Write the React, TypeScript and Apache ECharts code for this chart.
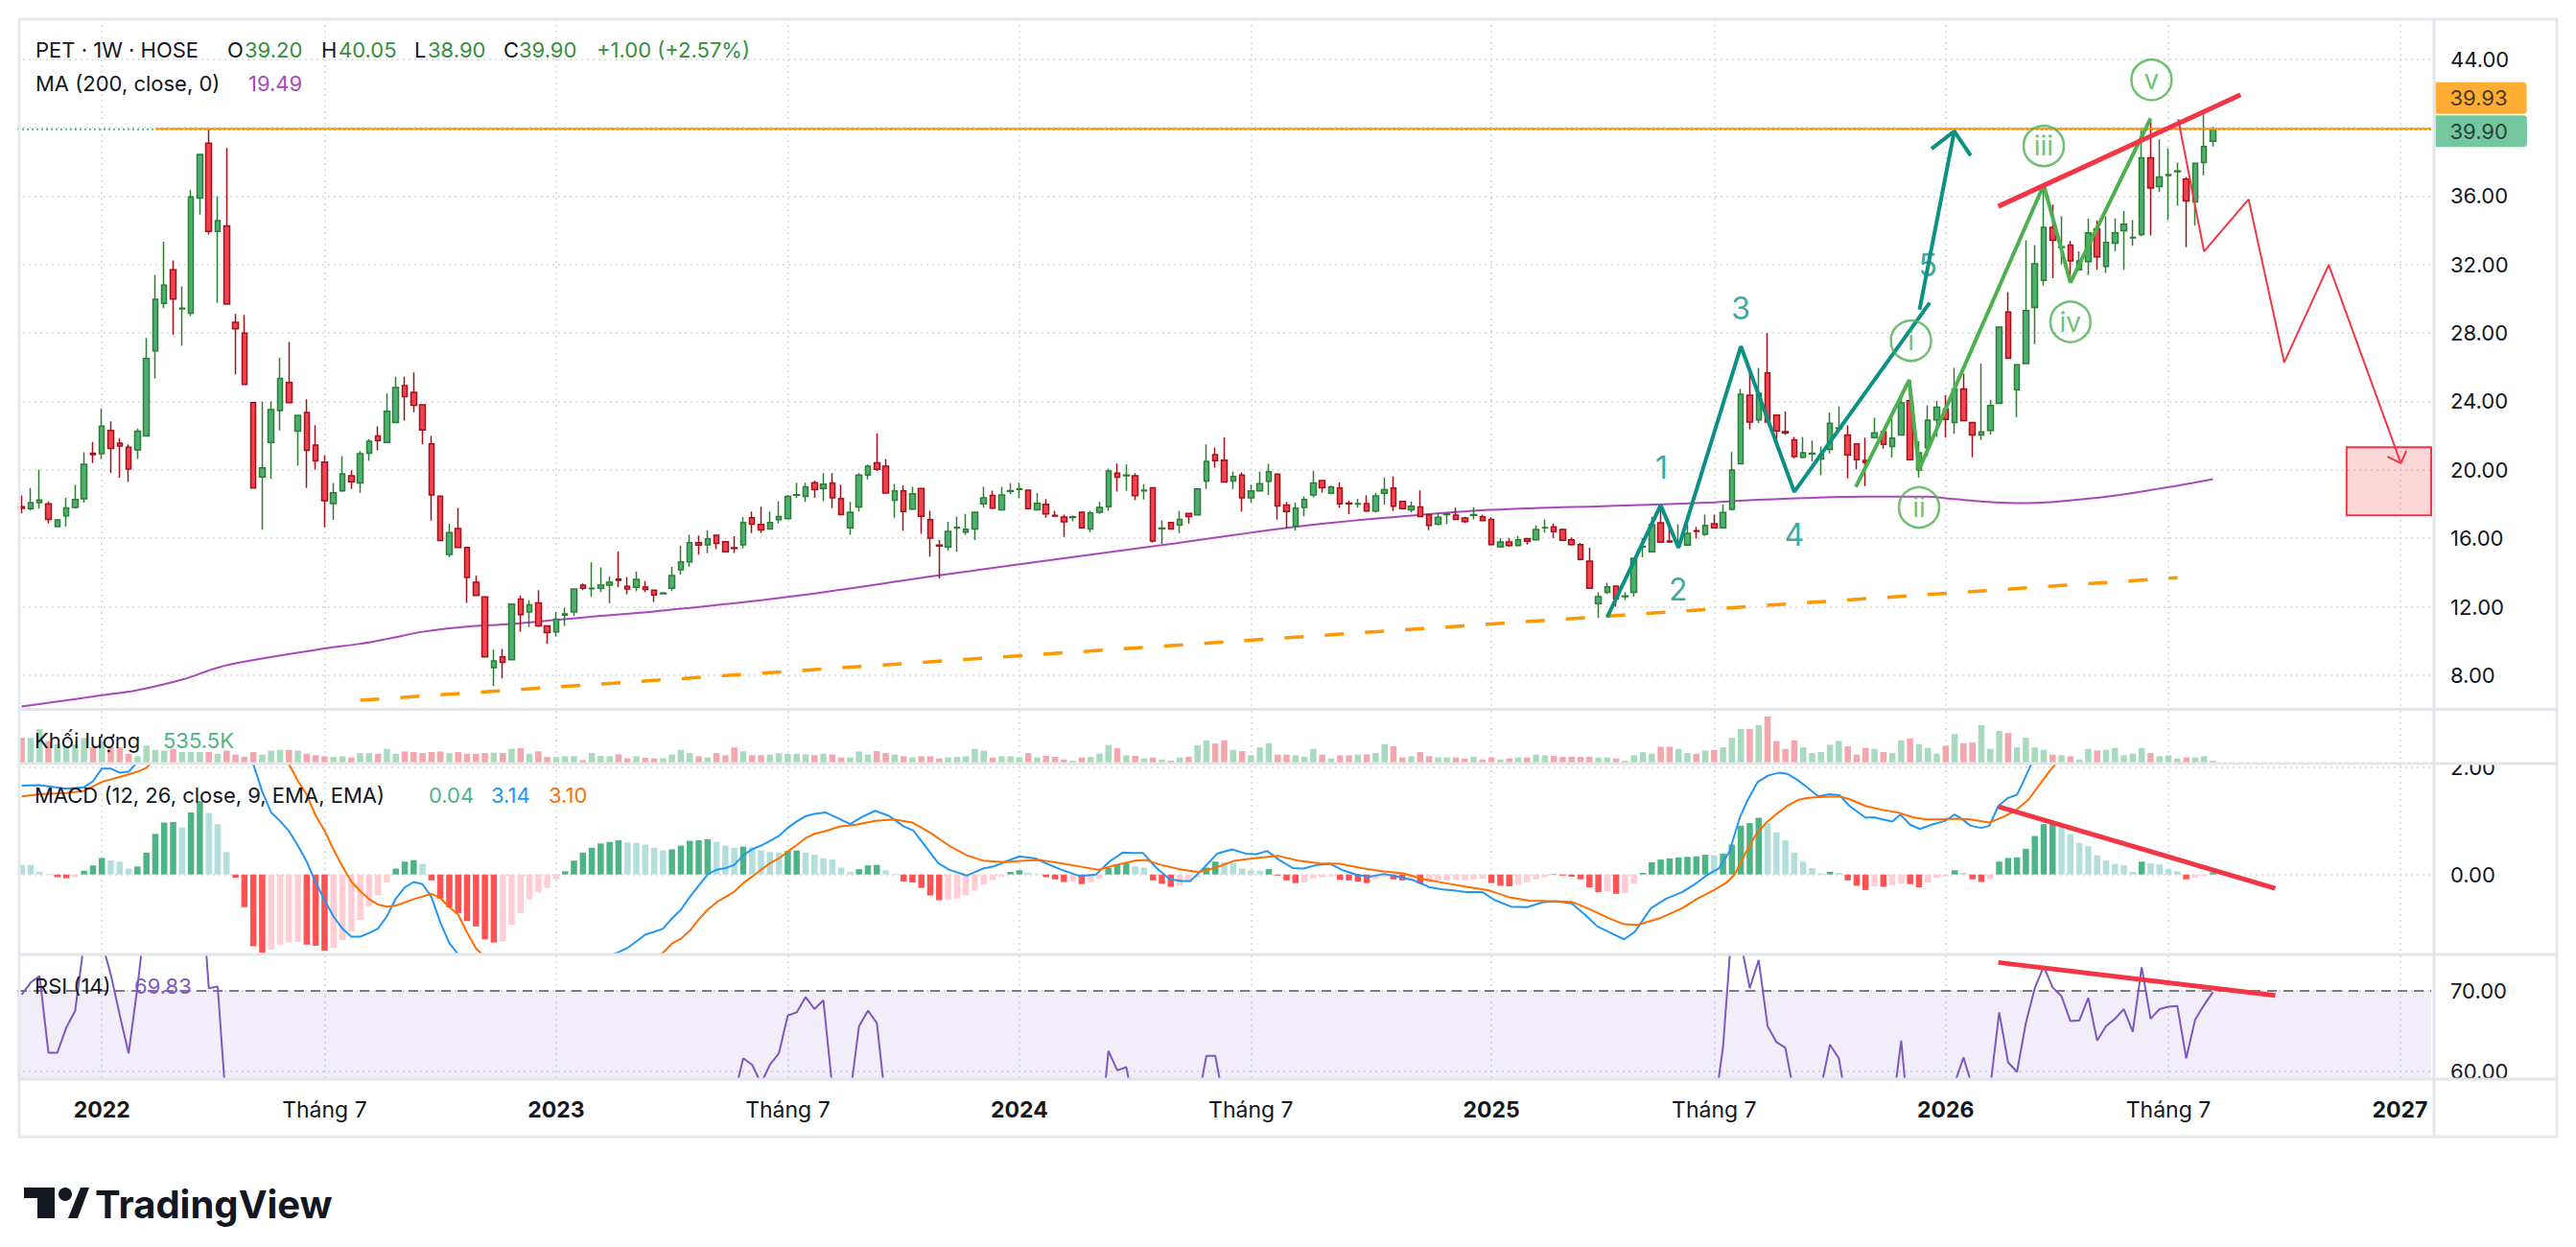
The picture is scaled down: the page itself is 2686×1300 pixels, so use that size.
import React, { useEffect, useRef } from "react";
import * as echarts from "echarts";

// ---------------- DATA ----------------
// weekly candles: [open, high, low, close]
const ohlc: number[][] = [
  [17.85,18.5,17.45,17.75],[17.73,18.94,17.62,18.08],[18.08,20.01,17.73,18.24],[18.01,18.15,16.87,17.1],[16.69,17.13,16.65,17.08],
  [17.31,18.36,16.69,17.78],[17.8,19.12,17.73,18.27],[18.31,21.03,18.08,20.33],[20.98,21.63,20.4,20.89],[20.94,23.6,20.63,22.56],
  [22.3,22.84,19.82,21.26],[21.56,21.86,19.54,21.4],[21.33,21.49,19.31,20.05],[21.17,22.42,20.63,22.26],[21.98,27.71,21.98,26.51],
  [26.95,31.38,25.35,29.97],[29.73,33.33,29.45,30.8],[31.7,32.24,27.9,29.99],[29.41,30.73,27.25,29.45],[29.15,36.35,28.99,35.95],
  [35.88,38.44,34.91,38.44],[39.09,39.93,33.75,33.93],[33.93,36.0,29.76,34.56],[34.26,38.81,29.69,29.69],[28.62,29.11,25.58,28.25],
  [27.99,29.06,24.99,24.99],[23.93,23.93,18.94,18.94],[19.59,24.0,16.5,20.12],[21.61,24.0,19.47,23.53],[23.47,26.55,22.3,25.35],
  [25.11,27.48,23.93,23.93],[22.26,23.19,20.24,23.19],[23.35,24.12,18.94,21.14],[21.45,22.61,20.01,20.52],[20.45,20.86,16.64,18.2],
  [18.03,19.24,17.08,18.66],[18.78,20.8,18.71,19.77],[19.66,19.98,18.89,19.31],[19.24,21.1,18.66,20.94],[20.98,21.79,20.52,21.68],
  [21.98,22.54,21.14,21.72],[21.61,24.46,21.61,23.42],[22.77,25.44,22.77,24.81],[24.92,25.44,22.88,24.28],[24.53,25.69,23.37,23.77],
  [23.81,23.81,21.49,22.33],[21.52,21.98,17.04,18.54],[18.47,18.47,15.87,15.87],[15.06,16.85,14.9,16.34],[16.57,17.78,15.46,15.46],
  [15.46,15.46,12.23,13.72],[13.44,13.83,12.67,12.67],[12.58,12.58,9.07,9.07],[8.45,9.49,7.36,8.84],[9.07,9.54,7.82,8.75],
  [8.91,12.16,8.91,12.16],[12.46,12.67,10.54,11.54],[11.7,12.39,10.81,12.11],[12.23,12.97,10.81,10.88],[10.88,10.88,9.84,10.49],
  [10.54,11.7,10.26,11.28],[11.51,11.93,10.88,11.58],[11.7,13.04,11.47,13.04],[13.27,13.37,12.97,13.09],[13.05,14.6,12.58,13.09],
  [13.09,14.3,12.86,13.27],[13.27,13.79,12.21,13.44],[13.62,15.23,13.14,13.55],[13.2,13.74,12.74,13.04],[13.14,14.07,12.9,13.6],
  [13.16,13.51,12.86,13.02],[12.97,12.97,12.28,12.69],[12.76,12.86,12.72,12.81],[13.08,14.33,12.91,13.82],[14.16,15.56,13.88,14.63],
  [14.63,16.21,14.35,15.75],[15.75,16.16,15.04,15.6],[15.62,16.46,15.13,15.97],[16.18,16.18,15.37,15.71],[15.8,15.8,15.19,15.22],
  [15.45,16.12,15.15,15.41],[15.62,17.24,15.41,16.92],[17.2,17.57,16.31,16.83],[16.81,17.85,16.31,16.49],[16.55,17.57,16.55,16.92],
  [17.09,18.17,16.87,17.28],[17.15,18.54,17.15,18.45],[18.52,19.25,18.36,18.55],[18.45,19.25,18.13,19.01],[19.25,19.37,18.36,18.86],
  [18.92,19.81,18.17,19.16],[19.23,19.81,17.76,18.36],[18.32,19.14,17.39,17.39],[16.62,18.13,16.21,17.52],[17.84,19.81,17.57,19.7],
  [19.7,20.32,19.44,20.22],[20.41,22.13,19.94,20.04],[20.22,20.63,18.64,18.64],[18.23,19.18,17.2,18.77],[18.77,19.1,16.44,17.57],
  [17.71,19.01,17.65,18.6],[18.92,18.92,16.27,17.29],[17.09,17.61,14.94,16.01],[15.61,15.9,13.66,15.55],[15.5,16.96,15.28,16.4],
  [16.6,17.28,15.22,16.64],[16.36,17.43,16.21,16.53],[16.55,17.52,15.9,17.52],[18.02,19.01,17.8,18.36],[18.51,18.79,17.71,17.76],
  [17.67,19.01,17.67,18.54],[18.75,19.23,18.58,18.79],[18.86,19.25,18.36,18.9],[18.82,18.82,17.71,17.74],[17.67,18.64,17.65,18.04],
  [17.99,18.3,17.2,17.43],[17.35,17.61,17.24,17.3],[17.24,17.39,16.08,16.96],[17.22,17.33,16.99,17.26],[17.52,17.57,16.62,16.62],
  [16.55,17.61,16.36,17.48],[17.52,18.13,17.43,17.8],[17.85,20.07,17.61,19.94],[19.81,20.37,18.73,19.57],[19.66,20.32,18.77,19.7],
  [19.66,19.81,18.23,18.49],[18.77,19.16,18.27,18.81],[18.96,18.96,15.75,15.84],[16.56,17.05,15.66,16.6],[16.92,16.92,16.55,16.55],
  [16.77,17.61,16.31,17.11],[17.46,17.46,16.87,17.28],[17.37,18.88,17.33,18.88],[19.35,21.49,18.88,20.5],[20.89,21.31,20.13,20.54],
  [20.56,21.9,19.29,19.29],[19.35,19.89,18.88,19.61],[19.7,19.85,17.57,18.36],[18.36,19.14,18.08,18.77],[18.77,19.89,18.77,19.2],
  [19.33,20.35,18.54,19.89],[19.76,19.76,17.09,17.89],[17.95,18.13,16.59,17.57],[16.72,18.08,16.46,17.76],[17.8,18.45,17.29,18.27],
  [18.54,19.94,18.4,19.23],[19.38,19.38,18.67,18.96],[18.63,19.09,18.57,19.0],[18.94,19.28,17.79,18.01],[18.06,18.2,17.41,18.02],
  [18.0,18.31,17.79,18.03],[18.03,18.5,17.54,17.6],[17.6,18.66,17.51,18.48],[18.63,19.56,17.97,18.85],[18.94,19.62,17.6,17.88],
  [18.16,18.2,17.69,17.73],[17.66,18.16,17.51,17.88],[17.84,18.8,17.23,17.28],[17.38,17.38,16.48,16.76],[16.82,17.47,16.76,17.23],
  [17.38,17.51,16.82,17.43],[17.36,17.79,17.1,17.1],[17.19,17.26,16.89,16.98],[17.34,17.82,17.1,17.38],[17.26,17.38,17.0,17.04],
  [17.1,17.23,15.58,15.64],[15.51,16.01,15.45,15.79],[15.79,16.01,15.51,15.58],[15.58,16.14,15.58,15.92],[15.98,16.01,15.64,15.83],
  [15.92,16.76,15.92,16.52],[16.61,17.1,16.33,16.63],[16.67,16.85,16.01,16.39],[16.52,16.57,15.88,15.88],[15.92,16.05,15.58,15.64],
  [15.64,15.73,14.71,14.76],[14.67,15.45,13.08,13.08],[12.19,12.84,11.35,12.6],[12.84,13.4,12.75,13.17],[13.21,13.21,12.0,12.47],
  [12.6,12.84,12.4,12.64],[12.84,14.84,12.6,14.84],[15.49,16.01,14.89,15.53],[15.21,17.26,15.17,16.8],[16.91,17.79,15.73,15.77],
  [15.85,16.63,15.73,15.79],[15.77,16.82,15.58,15.81],[15.6,16.82,15.6,16.29],[16.45,16.67,15.98,16.4],[16.24,17.38,16.14,16.76],
  [16.85,17.38,16.57,16.61],[16.61,17.97,16.61,17.51],[17.69,21.05,17.63,19.99],[20.36,24.73,20.36,24.42],[24.36,25.96,22.36,22.79],
  [22.92,25.96,22.74,24.47],[25.67,28.0,22.79,22.79],[23.2,23.24,21.47,22.27],[22.24,23.43,22.04,22.17],[21.76,21.93,20.68,20.77],
  [20.74,21.93,20.68,21.0],[20.93,21.71,20.49,20.97],[20.64,21.37,19.69,20.87],[21.2,23.35,20.96,22.73],[22.42,23.72,22.3,22.46],
  [22.04,22.6,19.5,20.87],[21.52,21.52,20.03,20.59],[20.55,21.89,19.06,20.44],[21.89,23.05,21.89,22.17],[22.23,22.23,21.24,21.49],
  [21.37,23.01,20.74,21.86],[22.04,24.32,22.04,23.91],[24.04,25.2,20.59,20.59],[19.99,21.67,19.56,21.0],[21.3,23.76,20.8,22.9],
  [22.92,24.04,21.92,23.66],[23.57,24.37,21.89,22.95],[22.77,25.96,22.11,24.73],[24.73,25.63,22.88,22.88],[22.77,22.77,20.73,22.04],
  [22.04,26.22,21.74,22.22],[22.3,24.1,22.07,23.76],[23.89,28.34,23.89,28.34],[29.23,30.39,26.52,26.52],[24.69,26.15,23.07,26.15],
  [26.22,33.42,26.22,29.31],[29.5,33.14,27.35,32.04],[31.08,36.62,30.77,34.17],[34.17,35.5,31.2,33.42],[33.0,34.82,32.02,33.04],
  [33.14,33.38,31.05,32.21],[31.7,32.77,31.7,32.21],[32.17,34.69,31.38,33.85],[34.09,34.56,31.7,32.45],[31.89,34.82,31.51,33.29],
  [33.25,34.69,32.79,33.85],[33.98,35.12,31.7,34.35],[33.55,34.6,33.1,33.59],[33.76,39.87,33.66,38.24],[38.24,40.39,33.7,36.47],
  [36.56,39.31,36.24,37.12],[37.2,38.8,34.6,37.25],[37.42,37.96,35.44,37.46],[36.99,37.12,33.01,35.72],[35.66,37.91,34.28,37.91],
  [37.96,40.8,37.21,38.9],[39.2,40.05,38.9,39.9],
];

// weekly volume, millions of shares
const volumeM: number[] = [
  7.0,7.0,9.5,6.1,5.2,4.8,5.2,7.0,4.3,6.1, 4.3,4.3,2.5,1.8,4.8,3.6,3.4,3.9,3.0,3.0,
  3.0,3.0,2.5,3.4,2.25,1.6,3.0,2.25,3.4,3.6, 3.6,3.4,2.5,2.1,1.8,1.6,1.8,1.45,2.7,2.7,
  2.5,3.9,2.5,3.15,3.0,2.7,3.0,3.15,2.7,3.0, 2.5,2.5,2.7,2.8,2.7,3.9,4.1,2.5,3.2,1.6,
  1.6,1.8,1.8,0.7,2.7,1.9,1.8,2.35,1.2,1.8, 1.35,1.2,1.2,2.35,3.6,2.7,1.8,1.45,2.7,2.1,
  4.3,3.2,2.1,2.1,2.25,2.7,2.5,2.5,2.35,2.1, 2.5,2.3,1.44,1.44,3.15,2.25,3.24,2.7,2.25,1.8,
  1.44,1.8,1.8,1.17,1.44,1.62,1.8,3.87,3.42,1.44, 1.8,1.8,1.44,2.7,1.44,1.89,1.62,0.9,0.54,1.44,
  1.62,2.52,4.95,4.05,2.07,1.89,1.17,1.44,0.9,0.54, 1.44,1.62,4.95,6.3,5.4,6.3,3.6,3.24,2.07,4.32,
  5.49,2.25,2.25,2.07,1.62,3.87,2.25,1.17,2.07,2.07, 2.25,2.34,2.7,5.22,4.59,1.44,1.8,2.97,1.8,1.44,
  1.44,1.44,1.17,1.62,0.9,1.44,0.9,1.17,1.44,1.44, 2.25,2.07,1.89,1.62,1.62,1.62,1.62,1.44,1.44,1.17,
  0.54,2.07,2.97,2.52,4.5,4.5,3.87,2.7,2.52,3.42, 3.6,4.32,7.02,9.54,9.54,10.62,13.05,6.12,3.87,6.3,
  4.32,2.7,2.97,5.04,6.12,4.59,2.25,4.14,3.87,2.97, 2.7,6.3,6.84,5.22,4.14,2.52,4.77,8.1,5.49,5.67,
  10.62,3.87,9.0,8.37,4.32,7.02,4.32,3.6,2.25,2.07, 1.8,0.9,3.87,3.42,3.6,4.14,2.07,2.52,4.14,2.7,
  1.8,2.07,1.17,1.44,1.44,1.8,0.5355,
];

// MACD histogram per week
const macdHist: number[] = [
  0.18,0.18,0.05,0.01,-0.05,-0.07,-0.05,0.07,0.17,0.31, 0.26,0.24,0.11,0.15,0.41,0.76,0.97,0.98,0.88,1.16,
  1.37,1.15,0.94,0.42,-0.06,-0.61,-1.34,-1.46,-1.4,-1.31, -1.27,-1.26,-1.31,-1.33,-1.42,-1.37,-1.22,-1.06,-0.85,-0.59,
  -0.39,-0.15,0.11,0.24,0.27,0.2,-0.11,-0.45,-0.61,-0.72, -0.87,-0.97,-1.21,-1.27,-1.25,-0.94,-0.72,-0.47,-0.33,-0.25,
  -0.09,0.06,0.26,0.41,0.5,0.58,0.61,0.64,0.6,0.59, 0.56,0.5,0.45,0.47,0.54,0.63,0.64,0.66,0.61,0.54,
  0.5,0.52,0.51,0.45,0.42,0.41,0.44,0.45,0.41,0.37, 0.3,0.28,0.13,0.05,0.1,0.17,0.18,0.08,0.01,-0.13,
  -0.15,-0.25,-0.39,-0.48,-0.47,-0.45,-0.39,-0.3,-0.19,-0.11, -0.04,0.05,0.08,0.03,0.01,-0.05,-0.09,-0.14,-0.13,-0.18,
  -0.14,-0.08,0.12,0.19,0.21,0.15,0.13,-0.11,-0.17,-0.23, -0.21,-0.15,-0.06,0.13,0.24,0.23,0.22,0.11,0.08,0.07,
  0.1,-0.02,-0.11,-0.16,-0.15,-0.07,-0.05,-0.03,-0.1,-0.11, -0.13,-0.16,-0.09,-0.05,-0.09,-0.11,-0.07,-0.17,-0.15,-0.11,
  -0.11,-0.1,-0.1,-0.09,-0.08,-0.16,-0.21,-0.22,-0.19,-0.15, -0.09,-0.05,0.01,-0.02,-0.04,-0.09,-0.24,-0.33,-0.32,-0.36,
  -0.35,-0.17,0.03,0.23,0.28,0.3,0.32,0.33,0.34,0.37, 0.36,0.39,0.56,0.91,0.96,1.06,0.96,0.79,0.64,0.41,
  0.24,0.12,0.02,0.05,0.03,-0.11,-0.21,-0.29,-0.22,-0.23, -0.2,-0.17,-0.18,-0.24,-0.15,-0.06,-0.04,0.08,0.03,-0.09,
  -0.14,-0.09,0.24,0.31,0.32,0.48,0.72,0.94,0.97,0.91, 0.75,0.59,0.53,0.36,0.26,0.2,0.17,0.05,0.24,0.21,
  0.19,0.1,0.06,-0.09,-0.06,-0.03,0.04,
];

// MACD line [week, value]
const macdLine: number[][] = [
  [0,1.66],[2,1.67],[5,1.6],[7,1.63],[8,1.74],[9,1.98],[10,1.98],[11,1.9],[12,1.92],[13,2.1],[14,2.4],[15,2.94],[16,3.39],
  [17,3.65],[18,3.77],[19,4.34],[20,4.89],[21,4.96],[22,4.99],[23,4.58],[24,4.08],[25,3.2],[26,2.06],[27,1.55],[28,1.16],
  [29,1.0],[30,0.81],[31,0.54],[32,0.24],[33,-0.15],[34,-0.48],[35,-0.78],[36,-1.01],[37,-1.16],[38,-1.16],[39,-1.09],
  [40,-1.01],[41,-0.78],[42,-0.45],[43,-0.24],[44,-0.14],[45,-0.18],[46,-0.42],[47,-0.9],[48,-1.28],[49,-1.49],[50,-1.95],
  [51,-2.35],[52,-2.75],[53,-3.0],[54,-3.1],[55,-3.0],[56,-2.95],[57,-2.85],[58,-2.75],[59,-2.65],[60,-2.5],[61,-2.3],
  [62,-2.05],[63,-1.85],[64,-1.7],[65,-1.6],[66,-1.52],[67,-1.45],[68,-1.37],[69,-1.25],[70,-1.12],[71,-1.07],[72,-1.01],
  [73,-0.82],[74,-0.66],[75,-0.42],[76,-0.21],[77,0.0],[78,0.09],[79,0.12],[80,0.18],[81,0.36],[82,0.47],[83,0.54],
  [84,0.63],[85,0.72],[86,0.87],[87,0.99],[88,1.09],[89,1.13],[90.2,1.16],[91.4,1.07],[93.0,0.94],[94.3,1.07],[95.8,1.19],
  [97.3,1.1],[99.0,0.9],[100.1,0.82],[101.4,0.54],[102.9,0.21],[104.1,0.09],[106.1,-0.02],[107.9,0.11],[109.1,0.15],
  [110.6,0.25],[112.0,0.34],[113.8,0.3],[115.0,0.21],[116.7,0.09],[118.8,-0.03],[120.6,0.0],[122.1,0.24],[123.6,0.41],
  [124.7,0.4],[125.9,0.4],[127.4,0.12],[128.9,-0.09],[130.3,-0.12],[131.2,-0.12],[132.7,0.12],[134.2,0.39],[135.9,0.47],
  [137.4,0.39],[138.6,0.38],[139.8,0.44],[141.2,0.27],[142.7,0.12],[143.9,0.11],[145.4,0.18],[146.9,0.2],[148.3,0.08],
  [149.8,0.0],[151.3,-0.04],[153.0,0.01],[154.5,-0.04],[156.3,-0.11],[158.1,-0.24],[159.5,-0.28],[161.0,-0.3],[162.2,-0.33],
  [164.0,-0.33],[165.4,-0.48],[167.2,-0.6],[169.0,-0.61],[170.7,-0.52],[172.2,-0.5],[174.0,-0.54],[175.5,-0.75],[176.9,-0.97],
  [178.4,-1.09],[179.9,-1.21],[181.1,-1.07],[182.0,-0.85],[182.9,-0.63],[184.6,-0.45],[186.4,-0.33],[188.1,-0.15],[189.3,0.0],
  [190.5,0.11],[191.7,0.42],[192.9,1.07],[193.7,1.37],[194.9,1.73],[196.1,1.85],[197.3,1.9],[198.2,1.88],[199.4,1.76],
  [200.5,1.62],[201.7,1.46],[202.9,1.5],[204.1,1.48],[205.2,1.28],[207.0,1.06],[207.9,1.07],[210.0,0.99],[210.9,1.12],
  [212.0,0.93],[213.1,0.85],[214.4,0.93],[215.9,1.0],[217.0,1.12],[217.8,1.04],[218.8,0.91],[220.0,0.87],[220.9,0.91],
  [221.9,1.28],[223.0,1.43],[224.0,1.49],[224.7,1.73],[225.6,2.06],[226,2.3],[227,2.76],[228,3.03],[229,3.21],[230,3.25],
  [231,3.24],[232,3.31],[233,3.23],[234,3.19],[235,3.18],[236,3.19],[237,3.09],[238,3.31],[239,3.3],[240,3.3],[241,3.22],
  [242,3.19],[243,3.04],[244,3.05],[245,3.07],[246,3.14],
];

// MACD signal line [week, value]
const signalLine: number[][] = [
  [0,1.46],[2,1.5],[5,1.52],[7,1.56],[9,1.73],[11,1.82],[13,1.92],[14,1.99],[15,2.18],[16,2.42],[17,2.67],[18,2.89],
  [19,3.18],[20,3.52],[21,3.81],[22,4.05],[23,4.16],[24,4.14],[25,3.99],[26,3.65],[27,3.1],[28,2.6],[29,2.3],[30,2.06],
  [31,1.75],[32,1.49],[33,1.1],[34,0.82],[35,0.47],[36,0.15],[37,-0.13],[38,-0.31],[39,-0.46],[40,-0.56],[41,-0.6],
  [42,-0.58],[43,-0.52],[44,-0.46],[45,-0.41],[46,-0.36],[47,-0.44],[48,-0.61],[49,-0.75],[50,-1.08],[51,-1.38],[52,-1.54],
  [53,-1.73],[54,-1.85],[55,-2.06],[56,-2.23],[57,-2.38],[58,-2.42],[59,-2.4],[60,-2.41],[61,-2.36],[62,-2.31],[63,-2.26],
  [64,-2.2],[65,-2.18],[66,-2.13],[67,-2.09],[68,-1.97],[69,-1.85],[70,-1.68],[71,-1.57],[72,-1.46],[73,-1.29],[74,-1.2],
  [75,-1.05],[76,-0.84],[77,-0.66],[78,-0.52],[79,-0.42],[80,-0.32],[81,-0.16],[82,-0.04],[83,0.09],[84,0.21],[85,0.3],
  [86,0.43],[87,0.55],[88,0.68],[89,0.76],[90.2,0.81],[91.9,0.9],[93.7,0.93],[95.8,1.0],[97.9,1.03],[100.0,0.97],
  [102.0,0.78],[104.1,0.54],[106.1,0.36],[107.9,0.26],[110.3,0.23],[112.6,0.26],[114.4,0.27],[116.7,0.21],[119.1,0.14],
  [120.9,0.09],[122.9,0.18],[125.0,0.26],[126.2,0.27],[127.9,0.18],[130.3,0.09],[132.1,0.05],[133.9,0.12],[136.2,0.26],
  [138.6,0.31],[141.0,0.35],[143.3,0.26],[145.7,0.21],[148.0,0.2],[150.4,0.12],[152.7,0.06],[155.1,0.02],[157.5,-0.09],
  [159.8,-0.16],[162.2,-0.23],[164.6,-0.29],[166.9,-0.42],[169.3,-0.49],[171.7,-0.5],[174.0,-0.51],[175.8,-0.63],
  [178.1,-0.81],[179.9,-0.93],[181.4,-0.94],[182.8,-0.87],[184.0,-0.81],[186.4,-0.63],[188.1,-0.45],[189.9,-0.3],
  [191.4,-0.15],[192.3,0.0],[193.4,0.36],[194.6,0.72],[195.8,0.96],[197.0,1.13],[198.2,1.28],[199.4,1.39],[200.5,1.43],
  [202.3,1.45],[204.1,1.46],[205.3,1.4],[207.0,1.28],[208.8,1.21],[210.6,1.16],[212.3,1.07],[213.8,1.03],[215.3,1.03],
  [217.1,1.04],[218.8,1.03],[220.9,0.97],[222.4,1.07],[223.8,1.19],[225.3,1.4],[226.5,1.67],[227.7,1.94],[228.3,2.06],
  [229,2.3],[230,2.5],[231,2.65],[232,2.78],[233,2.87],[234,2.93],[235,2.98],[236,3.02],[237,3.04],[238,3.07],[239,3.09],
  [240,3.11],[241,3.12],[242,3.13],[243,3.13],[244,3.11],[245,3.1],[246,3.1],
];

// RSI(14) per week
const rsi14: number[] = [
  69.5,71.0,71.8,62.3,62.3,65.4,67.5,76,78,76, 72,67,62.2,70.5,80,85,87,84,80,85,
  86,70.3,70.5,55,52,45,36,40,45,49, 46,47,43,42,37,39,42,41,45,47,
  47,52,55,53,51,47,38,33,37,35, 31,29,23,25,25,38,37,40,36,35,
  39,40,46,46,46,47,48,48,46,48, 46,45,46,50,53,55,55,56,57,56,
  57,61.6,60.8,58.5,60.8,62.2,66.9,67.3,69.2,67.7, 68.8,58,54,57,65.6,67.5,66.0,56,57,51,
  53,47,44,41,45,47,48,52,56,53, 56,57,57,51,54,50,47,46,47,44,
  49,51,62.5,60.1,60.5,55,56,43,47,47, 49,50,56,61.9,61.9,56,57,52,54,55,
  57,50,49,53,55,57,55,56,52,52, 52,51,54,55,51,49,50,48,45,47,
  48,47,46,48,47,40,42,41,43,42, 46,47,46,44,42,39,33,32,36,34,
  35,46,55,58,52,51,52,55,54,57, 55,63,78,76,70.3,73.8,65.6,63.6,62.9,57,
  58,58,58,63.3,61.6,55,52,52,56,54, 55,63.8,52,56,58,58.5,57,58.5,61.7,58,
  58,58,67.3,61.1,59.9,66.0,70.3,73.0,70.4,69.3, 66.2,66.3,69.1,63.8,65.6,66.5,67.7,64.9,72.9,66.5,
  67.7,68.0,68.1,61.6,66.4,68.2,69.83,
];

// MA(200) [week, value]
const ma200: number[][] = [
  [0,6.17],[9,6.83],[13,7.13],[18,7.74],[22,8.45],[25,8.8],[34,9.56],[38,9.84],[41,10.12],[45,10.54],[50,10.84],
  [55,11.0],[60,11.23],[65,11.47],[71,11.73],[86,12.58],[103,13.84],[112,14.48],[128,15.6],[145,16.8],[158,17.41],
  [165,17.66],[180,17.92],[190,18.1],[193,18.2],[200,18.35],[207,18.44],[214,18.44],[216,18.34],[224,18.06],[233,18.37],
  [241,18.99],[246,19.46],
];

// time axis
const TOTAL_WEEKS = 271;
const weeks: string[] = Array.from({ length: TOTAL_WEEKS }, (_, i) => String(i));
const timeTicks = [9, 34, 60, 86, 112, 138, 165, 190, 216, 241, 267];
const timeLabels = ["2022", "Tháng 7", "2023", "Tháng 7", "2024", "Tháng 7", "2025", "Tháng 7", "2026", "Tháng 7", "2027"];
const priceTicks = [8, 12, 16, 20, 24, 28, 32, 36, 40, 44];
const priceLabelTicks = [8, 12, 16, 20, 24, 28, 32, 36, 44];
const macdTicks = [0, 2];
const rsiTicks = [60, 70];

const lastClose = 39.9;
const highLine = 39.93;

// drawings [week, price]
const supportLine = [[38, 6.54], [242, 13.7]];
const highLineSpan = [[15, highLine], [270.5, highLine]];
const closeLineSpan = [[-0.5, lastClose], [270.5, lastClose]];
const waveMain = [[178, 11.4], [184, 17.94], [186, 15.45], [193, 27.22], [199, 18.72], [214.2, 29.77]];
const waveArrow = [[213.06, 29.36], [216.96, 39.79]];
const waveArrowHead = [[214.4, 38.76], [216.96, 39.79], [218.8, 38.37]];
const waveLabels = [[184.1, 20.12, "1"], [185.95, 13.03, "2"], [193.0, 29.46, "3"], [199.0, 16.2, "4"], [214.0, 31.98, "5"]];
const subWave = [[205.9, 19.0], [211.9, 25.26], [213.0, 20.02], [227.0, 36.65], [230.0, 30.95], [239.0, 40.54]];
const subWaveMarks = [[212.1, 27.55, "i"], [213.0, 17.81, "ii"], [227.0, 38.93, "iii"], [230.0, 28.65, "iv"], [239.1, 42.79, "v"]];
const wedgeTop = [[221.9, 35.4], [249.1, 41.92]];
const forecastPath = [[242.1, 40.49], [245.0, 32.77], [250.0, 35.81], [254.0, 26.28], [259.0, 31.98], [267.1, 20.39]];
const forecastHead = [[265.6, 20.77], [267.1, 20.39], [267.7, 21.1]];
const targetZone = [[261.0, 21.33], [270.5, 17.35]];
const macdDivergence = [[221.9, 1.27], [253.0, -0.26]];
const rsiDivergence = [[221.9, 73.49], [253.0, 69.4]];

// ---------------- STYLE / LAYOUT ----------------
const W = 2686;
const H = 1300;
const FONT = "Inter, Roboto, sans-serif";
const TXT = "#131722";
const UP = "#4caf74";
const DOWN = "#f0434f";
const GRID_LEFT = 18;
const GRID_RIGHT = 151;
const panes = [
  { top: 20, height: 719 },
  { top: 741, height: 54 },
  { top: 797, height: 197 },
  { top: 996, height: 128 },
];
const DOT = { color: "#d6d8de", width: 1.5, type: [2, 4] as number[] };
const CLEAR = "rgba(0,0,0,0)";

function App() {
  const ref = useRef<HTMLDivElement>(null);

  useEffect(() => {
    if (!ref.current) return;
    const chart = echarts.init(ref.current, null, { renderer: "svg", width: W, height: H });

    const grid = panes.map((p) => ({
      left: GRID_LEFT, right: GRID_RIGHT, top: p.top, height: p.height,
      outerBoundsMode: "none", containLabel: false,
    }));

    const xAxis: any[] = [];
    panes.forEach((_, gi) => {
      xAxis.push({ type: "category", gridIndex: gi, data: weeks, show: false, boundaryGap: true });
      xAxis.push({
        type: "value", gridIndex: gi, min: -0.5, max: TOTAL_WEEKS - 0.5, position: "bottom",
        axisLine: { show: false },
        axisTick: { show: false, customValues: timeTicks },
        axisLabel: gi === 3
          ? {
              show: true, customValues: timeTicks, margin: 21,
              formatter: (v: number) => {
                const k = timeTicks.indexOf(Math.round(v));
                if (k < 0) return "";
                const t = timeLabels[k];
                return /^\d{4}$/.test(t) ? `{y|${t}}` : `{m|${t}}`;
              },
              rich: {
                y: { fontFamily: FONT, fontSize: 23, fontWeight: 700, color: TXT },
                m: { fontFamily: FONT, fontSize: 23, fontWeight: 400, color: TXT },
              },
            }
          : { show: false },
        splitLine: { show: true, lineStyle: DOT },
      });
    });

    const yLabel = (vals: number[]) => ({
      show: true, customValues: vals, margin: 20, color: TXT, fontSize: 22, fontFamily: FONT,
      formatter: (v: number) => v.toFixed(2),
    });

    const yAxis: any[] = [
      {
        type: "value", gridIndex: 0, position: "right", min: 6.035, max: 46.337,
        axisLine: { show: false }, axisTick: { show: false, customValues: priceTicks },
        axisLabel: yLabel(priceLabelTicks), splitLine: { show: true, lineStyle: DOT },
      },
      { type: "value", gridIndex: 1, min: 0, max: 14.67, show: false, splitLine: { show: false } },
      {
        type: "value", gridIndex: 2, position: "right", min: -1.474, max: 2.054,
        axisLine: { show: false }, axisTick: { show: false, customValues: macdTicks },
        axisLabel: yLabel(macdTicks), splitLine: { show: true, lineStyle: DOT },
      },
      {
        type: "value", gridIndex: 3, position: "right", min: 59.13, max: 74.37,
        axisLine: { show: false }, axisTick: { show: false, customValues: rsiTicks },
        axisLabel: yLabel(rsiTicks), splitLine: { show: true, lineStyle: DOT },
      },
    ];

    const line = (data: any[], color: string, width: number, xi: number, yi: number, extra: any = {}) => ({
      type: "line", data, xAxisIndex: xi, yAxisIndex: yi, symbol: "none", showSymbol: false, silent: true,
      lineStyle: { color, width, ...(extra.lineStyle || {}) }, z: extra.z ?? 5,
      smooth: extra.smooth ?? false, ...(extra.more || {}),
    });

    const histColor = (i: number) => {
      const v = macdHist[i];
      const prev = i > 0 ? macdHist[i - 1] : v;
      if (v >= 0) return v > prev ? "#4db585" : "#b2dfdb";
      return v < prev ? "#ff5252" : "#ffcdd2";
    };

    const priceTag = (value: number, bg: string, dy: number) => ({
      type: "scatter", xAxisIndex: 1, yAxisIndex: 0, data: [[270.5, value]], symbolSize: 1, clip: false, silent: true, z: 20,
      itemStyle: { color: CLEAR },
      label: {
        show: true, position: "right", distance: 4, offset: [0, dy], formatter: value.toFixed(2),
        backgroundColor: bg, color: TXT, fontSize: 22, fontFamily: FONT, lineHeight: 22,
        padding: [6, 20, 5, 15], borderRadius: [0, 4, 4, 0],
      },
    });

    const series: any[] = [
      // price pane
      line(ma200, "#ab47bc", 2, 1, 0, { smooth: 0.4, z: 2 }),
      {
        type: "candlestick", xAxisIndex: 0, yAxisIndex: 0, barWidth: 6, silent: true, z: 3,
        data: ohlc.map(([o, h, l, c]) => [o, c, l, h]),
        itemStyle: { color: UP, color0: DOWN, borderColor: "#2e7d32", borderColor0: "#a3121b", borderWidth: 1.5 },
      },
      line(supportLine, "#ff9800", 3.5, 1, 0, { lineStyle: { type: [20, 22] } }),
      line(closeLineSpan, "#4cb782", 2, 1, 0, { lineStyle: { type: [2, 3] }, z: 4 }),
      line(highLineSpan, "#ff9800", 2, 1, 0, { z: 4 }),
      line(waveMain, "#0a9183", 4, 1, 0),
      line(waveArrow, "#0a9183", 4, 1, 0),
      line(waveArrowHead, "#0a9183", 4, 1, 0),
      {
        type: "scatter", xAxisIndex: 1, yAxisIndex: 0, data: waveLabels, symbolSize: 1, silent: true, z: 6,
        itemStyle: { color: CLEAR },
        label: { show: true, position: "inside", formatter: (p: any) => p.data[2], color: "#0a9183", fontSize: 32, fontFamily: FONT },
      },
      line(subWave, "#4caf50", 4, 1, 0),
      {
        type: "scatter", xAxisIndex: 1, yAxisIndex: 0, data: subWaveMarks, symbol: "circle", symbolSize: 42, silent: true, z: 6,
        itemStyle: { color: CLEAR, borderColor: "#4caf50", borderWidth: 2.5 },
        label: { show: true, position: "inside", formatter: (p: any) => p.data[2], color: "#4caf50", fontSize: 28, fontFamily: FONT },
      },
      line(wedgeTop, "#f23645", 5, 1, 0),
      line(forecastPath, "#f23645", 2, 1, 0, {
        more: {
          markArea: {
            silent: true,
            itemStyle: { color: "rgba(242,54,69,0.2)", borderColor: "#f23645", borderWidth: 2 },
            data: [[{ coord: targetZone[0] }, { coord: targetZone[1] }]],
          },
        },
      }),
      line(forecastHead, "#f23645", 2, 1, 0),
      priceTag(highLine, "#ff9800", -32),
      priceTag(lastClose, "#53b987", 2),

      // volume pane
      {
        type: "bar", xAxisIndex: 2, yAxisIndex: 1, data: volumeM, barWidth: "70%", silent: true,
        itemStyle: { color: (p: any) => (ohlc[p.dataIndex][3] >= ohlc[p.dataIndex][0] ? "#a8dbbe" : "#f4a6ad") },
      },

      // MACD pane
      {
        type: "bar", xAxisIndex: 4, yAxisIndex: 2, data: macdHist, barWidth: "70%", silent: true,
        itemStyle: { color: (p: any) => histColor(p.dataIndex) },
      },
      line(macdLine, "#2196f3", 2, 5, 2),
      line(signalLine, "#ff6d00", 2, 5, 2),
      line(macdDivergence, "#f23645", 5, 5, 2, { z: 7 }),

      // RSI pane
      line(rsi14, "#7e57c2", 2, 6, 3, {
        more: {
          markArea: {
            silent: true,
            itemStyle: { color: "rgba(126,87,194,0.1)" },
            data: [[{ yAxis: 59.13 }, { yAxis: 70 }]],
          },
          markLine: {
            silent: true, symbol: "none", label: { show: false },
            lineStyle: { color: "#787b86", width: 2, type: [10, 7] },
            data: [{ yAxis: 70 }],
          },
        },
      }),
      line(rsiDivergence, "#f23645", 5, 7, 3, { z: 7 }),
    ];

    const txt = (x: number, y: number, text: string, fill: string, size = 22, weight: any = 400) => ({
      type: "text", x, y, z: 200,
      style: { text, fill, fontSize: size, fontWeight: weight, fontFamily: FONT, verticalAlign: "middle" },
    });
    const hline = (y: number) => ({
      type: "line", z: 150, shape: { x1: 20, y1: y, x2: 2666, y2: y }, style: { stroke: "#e3e5ea", lineWidth: 3 },
    });

    const graphic: any[] = [
      // covers for axis labels clipped by pane edges
      { type: "rect", z: 140, shape: { x: 2541, y: 741, width: 123, height: 55 }, style: { fill: "#fff" } },
      { type: "rect", z: 140, shape: { x: 2541, y: 1126, width: 123, height: 58 }, style: { fill: "#fff" } },
      // frame and separators
      { type: "rect", z: 150, shape: { x: 20, y: 20, width: 2646, height: 1165 }, style: { fill: "none", stroke: "#e6e8ee", lineWidth: 3 } },
      { type: "line", z: 150, shape: { x1: 2538, y1: 20, x2: 2538, y2: 1185 }, style: { stroke: "#e3e5ea", lineWidth: 3 } },
      hline(739.5), hline(796), hline(995), hline(1125),
      // legends
      txt(37, 52, "PET · 1W · HOSE", TXT),
      txt(237, 52, "O", TXT), txt(255, 52, "39.20", "#388e3c"),
      txt(335, 52, "H", TXT), txt(353, 52, "40.05", "#388e3c"),
      txt(432, 52, "L", TXT), txt(446, 52, "38.90", "#388e3c"),
      txt(525, 52, "C", TXT), txt(541, 52, "39.90", "#388e3c"),
      txt(622, 52, "+1.00 (+2.57%)", "#388e3c"),
      txt(37, 87, "MA (200, close, 0)", TXT), txt(259, 87, "19.49", "#ab47bc"),
      txt(36, 772, "Khối lượng", TXT), txt(170, 772, "535.5K", "#4fb383"),
      txt(36, 829, "MACD (12, 26, close, 9, EMA, EMA)", TXT),
      txt(447, 829, "0.04", "#4fb383"), txt(512, 829, "3.14", "#2196f3"), txt(572, 829, "3.10", "#ff6d00"),
      txt(36, 1028, "RSI (14)", TXT), txt(140, 1028, "69.83", "#7e57c2"),
      // TradingView logo
      { type: "rect", z: 200, shape: { x: 25, y: 1238, width: 32, height: 11 }, style: { fill: "#131722" } },
      { type: "rect", z: 200, shape: { x: 39, y: 1238, width: 18, height: 32 }, style: { fill: "#131722" } },
      { type: "circle", z: 200, shape: { cx: 68, cy: 1245, r: 7 }, style: { fill: "#131722" } },
      { type: "polygon", z: 200, shape: { points: [[71, 1270], [84, 1238], [93, 1238], [81, 1270]] }, style: { fill: "#131722" } },
      txt(99, 1255, "TradingView", "#131722", 40, 700),
    ];

    chart.setOption({
      animation: false,
      backgroundColor: "#ffffff",
      textStyle: { fontFamily: FONT },
      grid, xAxis, yAxis, series, graphic,
    });

    return () => chart.dispose();
  }, []);

  return (
    <div
      ref={ref}
      style={{ position: "fixed", left: 0, top: 0, width: W, height: H, background: "#fff" }}
    />
  );
}

export default App;
